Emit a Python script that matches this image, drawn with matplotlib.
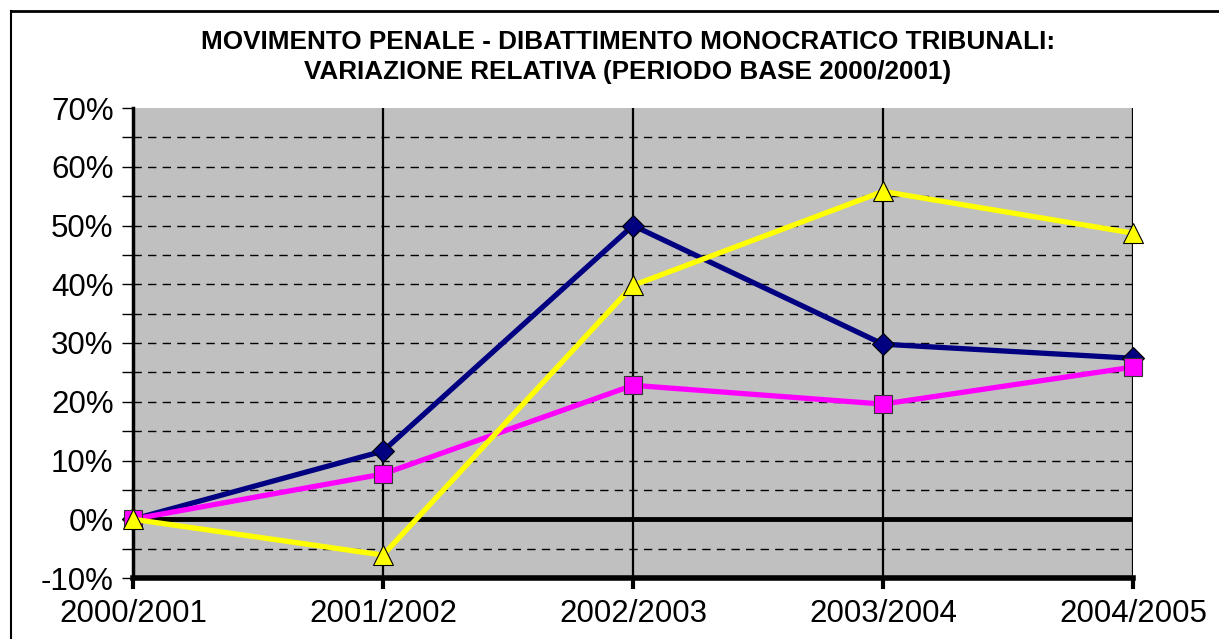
import matplotlib
matplotlib.use('Agg')
import matplotlib.pyplot as plt
from matplotlib.lines import Line2D
from matplotlib.ticker import MultipleLocator, FuncFormatter

plt.rcParams['font.family'] = ['Liberation Sans', 'DejaVu Sans']

# dati
periodi = ['2000/2001', '2001/2002', '2002/2003', '2003/2004', '2004/2005']
serie_blu = [0.0, 11.6, 50.0, 29.8, 27.4]
serie_magenta = [0.0, 7.7, 22.8, 19.6, 25.9]
serie_gialla = [0.0, -6.1, 39.8, 55.8, 48.7]

titolo = ("MOVIMENTO PENALE - DIBATTIMENTO MONOCRATICO TRIBUNALI:\n"
          "VARIAZIONE RELATIVA (PERIODO BASE 2000/2001)")

fig = plt.figure(figsize=(12.19, 6.39), dpi=100)
ax = fig.add_axes([133 / 1219, 61 / 639, 1000 / 1219, 470 / 639])
ax.set_facecolor('#C0C0C0')

x = list(range(len(periodi)))

# griglia orizzontale tratteggiata ogni 5%
for v in range(-5, 70, 5):
    ax.axhline(v, color='black', lw=1, dashes=(6, 4.5), zorder=1)
# griglia verticale
for xi in x:
    ax.axvline(xi, color='black', lw=1.6, zorder=1)
ax.axhline(0, color='black', lw=3.5, zorder=2)

ax.plot(x, serie_blu, color='#000080', lw=3.8, marker='D', markersize=11.5,
        markerfacecolor='#000080', markeredgecolor='black', markeredgewidth=0.8,
        zorder=3, clip_on=False)
ax.plot(x, serie_magenta, color='#FF00FF', lw=3.8, marker='s', markersize=13.5,
        markerfacecolor='#FF00FF', markeredgecolor='#333333', markeredgewidth=0.8,
        zorder=4, clip_on=False)
ax.plot(x, serie_gialla, color='#FFFF00', lw=3.8, marker='^', markersize=14.5,
        markerfacecolor='#FFFF00', markeredgecolor='black', markeredgewidth=0.8,
        zorder=5, clip_on=False)

ax.set_xlim(0, 4)
ax.set_ylim(-10, 70)
ax.set_xticks(x)
ax.set_xticklabels(periodi)
ax.yaxis.set_major_locator(MultipleLocator(10))
ax.yaxis.set_minor_locator(MultipleLocator(5))
ax.yaxis.set_major_formatter(FuncFormatter(lambda v, p: f'{v:.0f}%'))

ax.tick_params(axis='y', which='both', direction='out', length=8, width=1,
               labelsize=22.5, pad=6)
ax.tick_params(axis='x', direction='out', length=8, width=3,
               labelsize=22.5, pad=7)

for lato in ['top', 'right']:
    ax.spines[lato].set_visible(False)
ax.spines['left'].set_linewidth(2.5)
ax.spines['bottom'].set_linewidth(4)

fig.text(0.515, 0.911, titolo, ha='center', va='center', fontsize=18.8,
         fontweight='bold', linespacing=1.3)

# cornice del grafico
fig.add_artist(Line2D([10.5 / 1219, 1.0], [1 - 10.5 / 639, 1 - 10.5 / 639],
                      transform=fig.transFigure, color='black', lw=2))
fig.add_artist(Line2D([10.5 / 1219, 10.5 / 1219], [0, 1 - 10.5 / 639],
                      transform=fig.transFigure, color='black', lw=1.5))

plt.savefig('out.png', dpi=100)
plt.close()
